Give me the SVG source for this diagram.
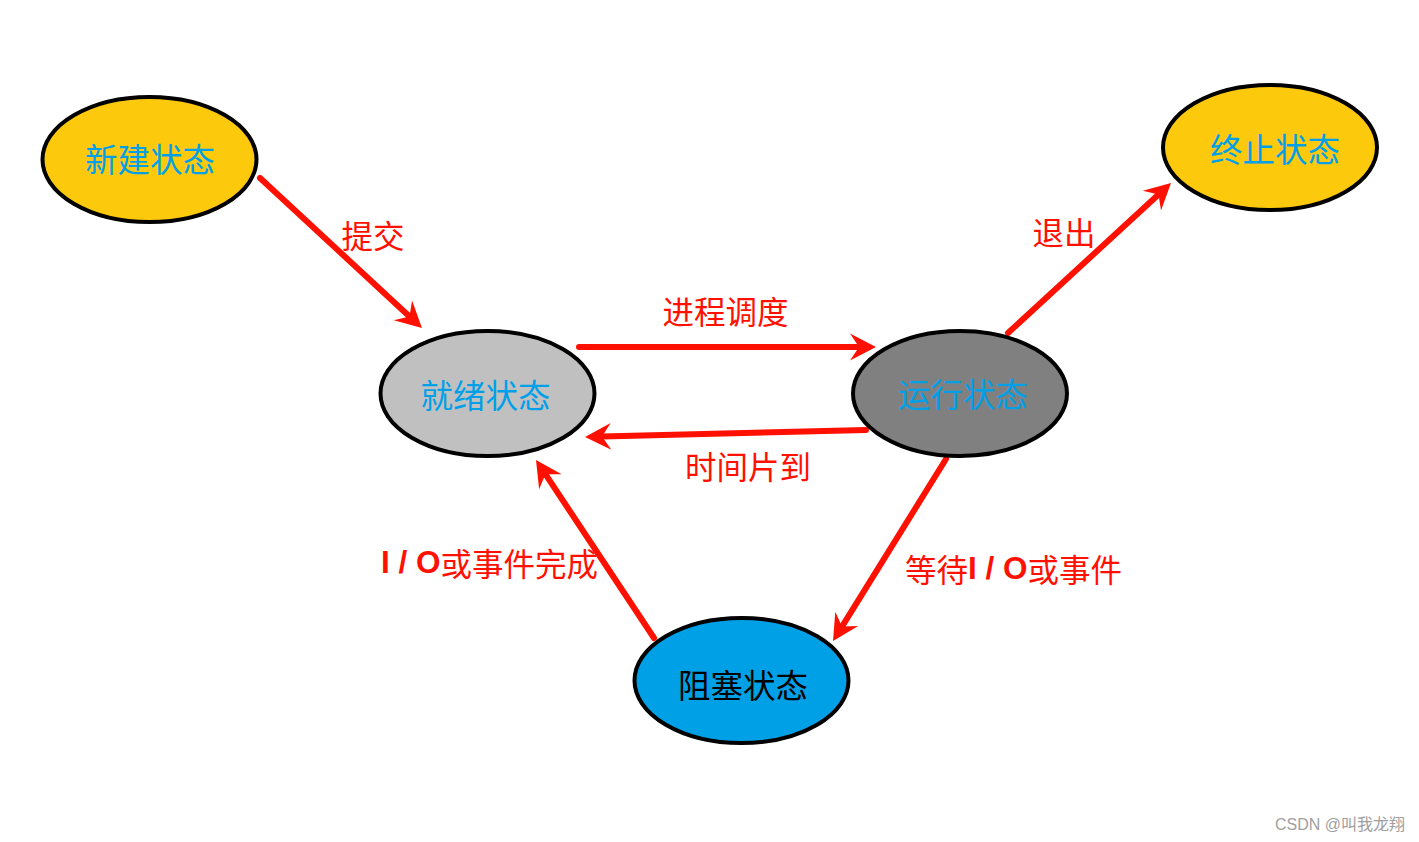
<svg xmlns="http://www.w3.org/2000/svg" width="1419" height="842" viewBox="0 0 1419 842">
<style>
.node ellipse{stroke:#000;stroke-width:4}
.nt{font-family:"Noto Sans CJK SC","Noto Sans",sans-serif;font-size:32.5px;text-anchor:middle;dominant-baseline:central}
.lbl{font-family:"Noto Sans CJK SC","Noto Sans",sans-serif;font-size:31.5px;fill:#FF1000;dominant-baseline:central}
.lat{font-family:"Liberation Sans",Arial,sans-serif;font-weight:bold}
.edge{stroke:#FF1000;stroke-width:6;stroke-linecap:round;fill:none;marker-end:url(#ah)}
</style>
<defs>
<marker id="ah" markerUnits="userSpaceOnUse" orient="auto" refX="0" refY="0" markerWidth="60" markerHeight="60" viewBox="-20 -30 60 60" overflow="visible">
<path d="M17,0 L-9,-13.5 L0,0 L-9,13.5 Z" fill="#FF1000"/>
</marker>
</defs>
<rect width="1419" height="842" fill="#fff"/>
<g id="connectors">
<line class="edge" x1="260" y1="178" x2="409.5" y2="316.5"/>
<line class="edge" x1="579" y1="347" x2="859" y2="347"/>
<line class="edge" x1="866" y1="430" x2="602" y2="436.6"/>
<line class="edge" x1="1008" y1="333" x2="1158.5" y2="194.5"/>
<line class="edge" x1="946" y1="459" x2="842" y2="626.6"/>
<line class="edge" x1="654" y1="638" x2="545.4" y2="474.2"/>
</g>
<g id="node-new" class="node">
<ellipse cx="149.5" cy="159.5" rx="107" ry="62.5" fill="#FDC90C"/>
<text class="nt" x="150" y="157" fill="#00A0E9">新建状态</text>
</g>
<g id="node-ready" class="node">
<ellipse cx="487.5" cy="393.5" rx="107" ry="62.5" fill="#C0C0C0"/>
<text class="nt" x="485.5" y="393" fill="#00A0E9">就绪状态</text>
</g>
<g id="node-running" class="node">
<ellipse cx="960" cy="393.5" rx="107" ry="62.5" fill="#808080"/>
<text class="nt" x="963" y="392" fill="#00A0E9">运行状态</text>
</g>
<g id="node-exit" class="node">
<ellipse cx="1270" cy="147.5" rx="107" ry="62.5" fill="#FDC90C"/>
<text class="nt" x="1275" y="147" fill="#00A0E9">终止状态</text>
</g>
<g id="node-blocked" class="node">
<ellipse cx="741.5" cy="680.5" rx="107" ry="62.5" fill="#00A0E6"/>
<text class="nt" x="743" y="683" fill="#000">阻塞状态</text>
</g>
<g id="labels">
<text class="lbl" x="373" y="234" text-anchor="middle">提交</text>
<text class="lbl" x="725.5" y="310" text-anchor="middle">进程调度</text>
<text class="lbl" x="748" y="465" text-anchor="middle">时间片到</text>
<text class="lbl" x="1064" y="231" text-anchor="middle">退出</text>
<text class="lbl" x="381" y="562"><tspan class="lat">I / O</tspan>或事件完成</text>
<text class="lbl" x="905" y="568">等待<tspan class="lat">I / O</tspan>或事件</text>
</g>
<text x="1405" y="824" text-anchor="end" dominant-baseline="central" font-family="'Liberation Sans','Noto Sans CJK SC',sans-serif" font-size="16" fill="#A0A0A0">CSDN @叫我龙翔</text>
</svg>
